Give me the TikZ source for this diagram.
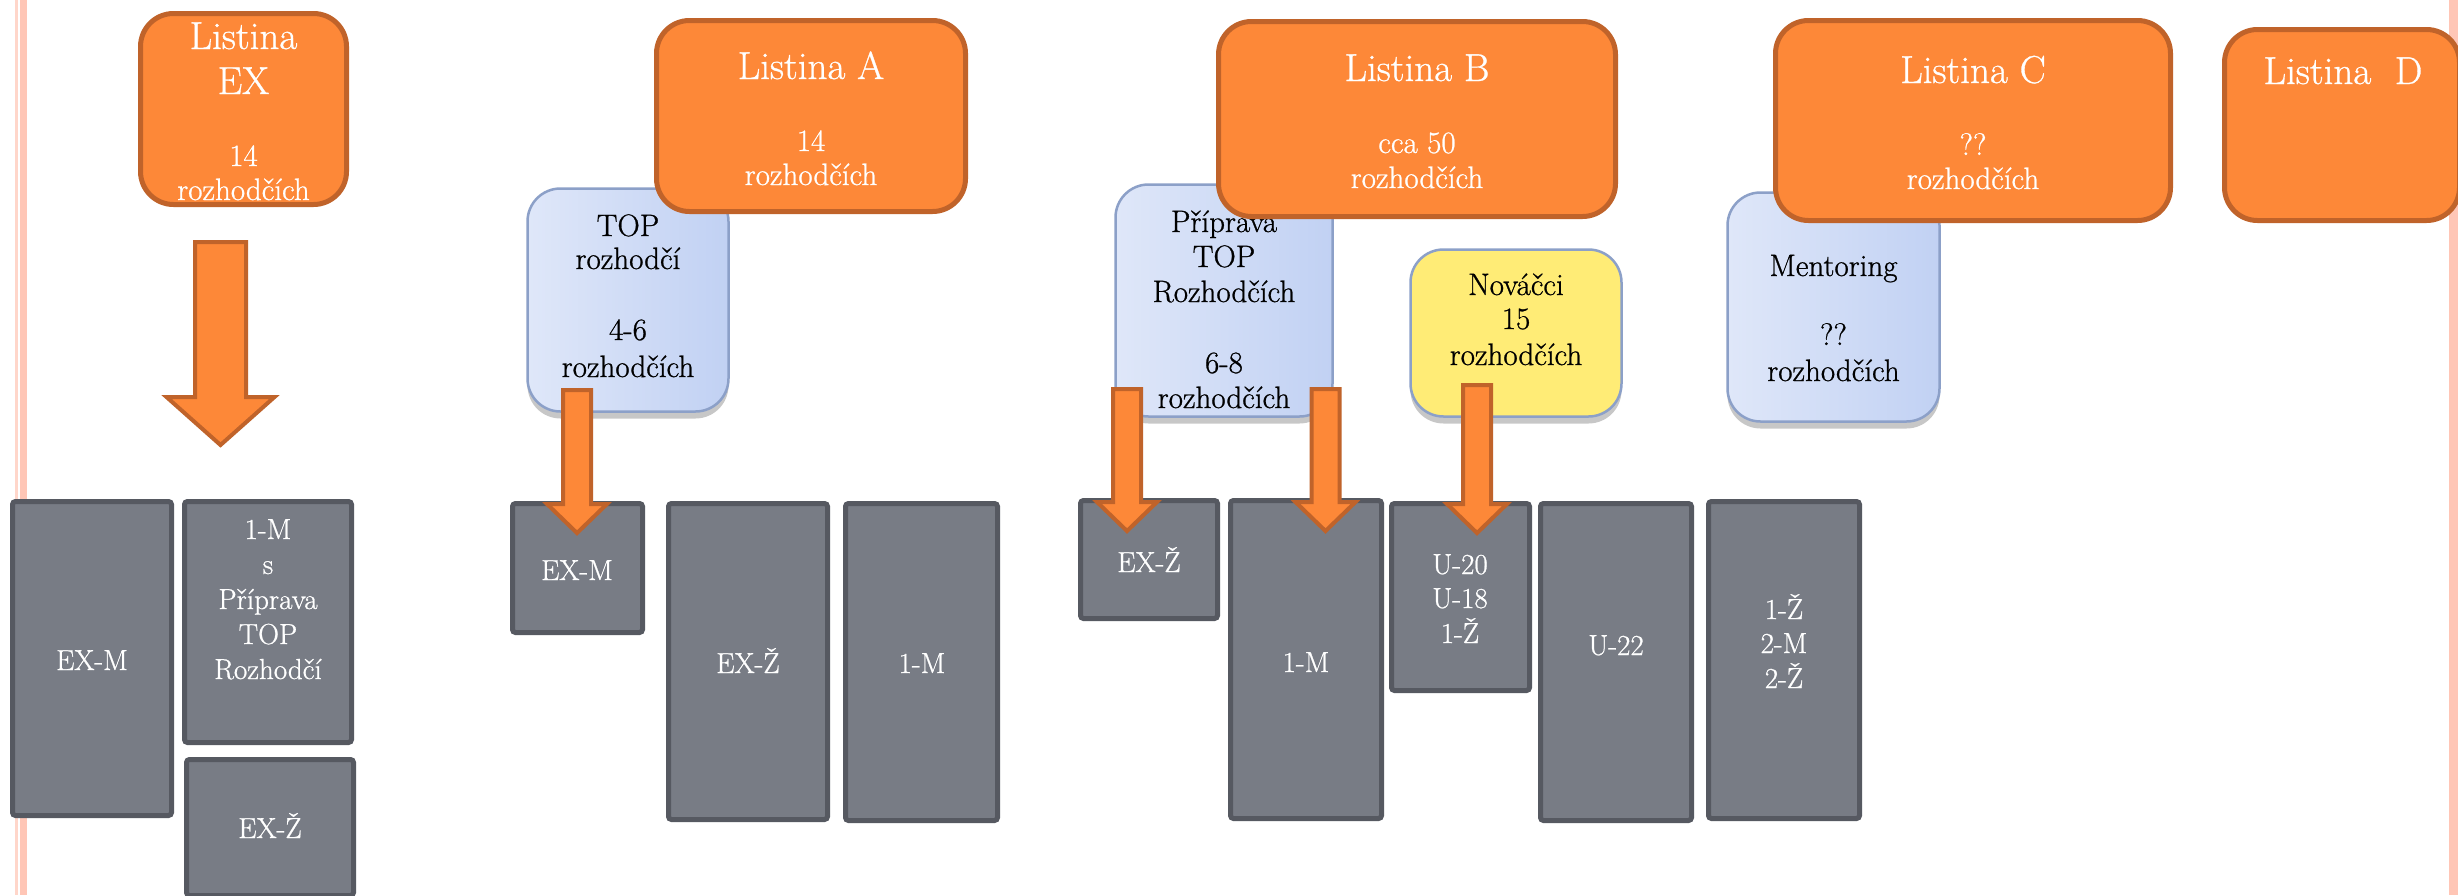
\documentclass[tikz,border=0pt]{standalone}
\usepackage{fontspec}
\setmainfont{Latin Modern Roman}[FakeBold=0.8]
\usetikzlibrary{shadows,calc}
\definecolor{orfill}{RGB}{253,136,56}
\definecolor{ordraw}{RGB}{192,99,42}
\definecolor{gyfill}{RGB}{120,124,133}
\definecolor{gydraw}{RGB}{86,89,97}
\definecolor{blL}{RGB}{223,231,249}
\definecolor{blR}{RGB}{193,209,243}
\definecolor{bldraw}{RGB}{140,160,200}
\definecolor{yefill}{RGB}{255,236,118}
\definecolor{pinkA}{RGB}{255,198,182}
\definecolor{pinkB}{RGB}{255,214,202}
\tikzset{
  orbox/.style={draw=ordraw, fill=orfill, line width=5pt, rounded corners=33pt, inner sep=0pt},
  shadowsty/.style={drop shadow={shadow xshift=0pt, shadow yshift=-7pt, opacity=0.22, fill=black}},
  blbox/.style={draw=bldraw, line width=2.5pt, left color=blL, right color=blR, rounded corners=33pt, inner sep=0pt, shadowsty},
  yebox/.style={draw=bldraw, line width=2.5pt, fill=yefill, rounded corners=33pt, inner sep=0pt, shadowsty},
  gybox/.style={draw=gydraw, fill=gyfill, line width=5pt, rounded corners=3pt, inner sep=0pt},
  arrowsty/.style={draw=ordraw, fill=orfill, line width=4pt, line join=miter},
  ttl/.style={text=white, font=\fontsize{39}{45}\selectfont, anchor=base, inner sep=0pt},
  owt/.style={text=white, font=\fontsize{31}{34}\selectfont, anchor=base, inner sep=0pt},
  blk/.style={text=black, font=\fontsize{31}{34}\selectfont, anchor=base, inner sep=0pt},
  gwt/.style={text=white, font=\fontsize{29}{34}\selectfont, anchor=base, inner sep=0pt},
}
% #1 start, #2 tip, #3 shaft half width, #4 head half width, #5 head length
\newcommand\blockarrow[5]{%
  \draw[arrowsty] let \p1=(#1), \p2=(#2) in
    (\x1-#3pt,\y1) -- (\x1+#3pt,\y1) -- (\x1+#3pt,\y2+#5pt) -- (\x1+#4pt,\y2+#5pt)
    -- (\x1,\y2) -- (\x1-#4pt,\y2+#5pt) -- (\x1-#3pt,\y2+#5pt) -- cycle;}
\begin{document}
\begin{tikzpicture}[x=1pt,y=-1pt]
\useasboundingbox (0,0) rectangle (2458,895);
\clip (0,0) rectangle (2458,895);
\fill[white] (0,0) rectangle (2458,895);
% page border lines
\fill[pinkB] (15,0) rectangle (17.5,895);
\fill[pinkA] (20,0) rectangle (27,895);
\fill[pinkA] (2449,0) rectangle (2458,895);

% blue and yellow boxes
\node[blbox, minimum width=201pt, minimum height=223pt] (bTOP) at (628,300) {};
\node[blk] (bTOPt1) at (628,236) {TOP};
\node[blk] (bTOPt2) at (628,269) {rozhodčí};
\node[blk] (bTOPt3) at (628,340) {4-6};
\node[blk] (bTOPt4) at (628,377) {rozhodčích};

\node[blbox, minimum width=217pt, minimum height=232pt] (bPrip) at (1224,300.5) {};
\node[blk] (bPript1) at (1224,232) {Příprava};
\node[blk] (bPript2) at (1224,267) {TOP};
\node[blk] (bPript3) at (1224,302) {Rozhodčích};
\node[blk] (bPript4) at (1224,373) {6-8};
\node[blk] (bPript5) at (1224,408) {rozhodčích};

\node[yebox, minimum width=211pt, minimum height=167pt] (yNov) at (1516,333) {};
\node[blk] (yNovt1) at (1516,295) {Nováčci};
\node[blk] (yNovt2) at (1516,329) {15};
\node[blk] (yNovt3) at (1516,365) {rozhodčích};

\node[blbox, minimum width=212pt, minimum height=229pt] (bMent) at (1833.5,307) {};
\node[blk] (bMentt1) at (1833.5,276) {Mentoring};
\node[blk] (bMentt2) at (1833.5,345) {??};
\node[blk] (bMentt3) at (1833.5,381) {rozhodčích};

% orange boxes
\node[orbox, minimum width=206pt, minimum height=191pt] (oEX) at (243.5,109) {};
\node[ttl] (oEXt1) at (243.5,49) {Listina};
\node[ttl] (oEXt2) at (243.5,94) {EX};
\node[owt] (oEXt3) at (243.5,166) {14};
\node[owt] (oEXt4) at (243.5,200) {rozhodčích};

\node[orbox, minimum width=309pt, minimum height=191pt] (oA) at (811,116) {};
\node[ttl] (oAt1) at (811,79) {Listina A};
\node[owt] (oAt2) at (811,151) {14};
\node[owt] (oAt3) at (811,185) {rozhodčích};

\node[orbox, minimum width=397pt, minimum height=195pt] (oB) at (1417,119) {};
\node[ttl] (oBt1) at (1417,81) {Listina B};
\node[owt] (oBt2) at (1417,153) {cca 50};
\node[owt] (oBt3) at (1417,188) {rozhodčích};

\node[orbox, minimum width=395pt, minimum height=200pt] (oC) at (1973,120.5) {};
\node[ttl] (oCt1) at (1973,83) {Listina C};
\node[owt] (oCt2) at (1973,155) {??};
\node[owt] (oCt3) at (1973,189) {rozhodčích};

\node[orbox, minimum width=235pt, minimum height=191pt] (oD) at (2342,125) {};
\node[ttl] (oDt1) at (2343,84) {Listina\ \ D};

% gray boxes
\node[gybox, minimum width=159pt, minimum height=314pt] (gEXM0) at (92,658.5) {};
\node[gwt] (gEXM0t) at (92,670) {EX-M};
\node[gybox, minimum width=167pt, minimum height=241pt] (g1Ms) at (268,622) {};
\node[gwt] (g1Mst1) at (268,539) {1-M};
\node[gwt] (g1Mst2) at (268,574) {s};
\node[gwt] (g1Mst3) at (268,609) {Příprava};
\node[gwt] (g1Mst4) at (268,644) {TOP};
\node[gwt] (g1Mst5) at (268,679) {Rozhodčí};
\node[gybox, minimum width=167pt, minimum height=136pt] (gEXZ0) at (270,827.5) {};
\node[gwt] (gEXZ0t) at (270,838) {EX-Ž};

\node[gybox, minimum width=130pt, minimum height=129pt] (gEXMA) at (577.5,568) {};
\node[gwt] (gEXMAt) at (577,580) {EX-M};
\node[gybox, minimum width=159pt, minimum height=316pt] (gEXZA) at (748,661.5) {};
\node[gwt] (gEXZAt) at (748,673) {EX-Ž};
\node[gybox, minimum width=152pt, minimum height=317pt] (g1MA) at (921.5,662) {};
\node[gwt] (g1MAt) at (922,673) {1-M};

\node[gybox, minimum width=137pt, minimum height=118pt] (gEXZB) at (1149,559.5) {};
\node[gwt] (gEXZBt) at (1149,572) {EX-Ž};
\node[gybox, minimum width=151pt, minimum height=318pt] (g1MB) at (1306,659.5) {};
\node[gwt] (g1MBt) at (1306,672) {1-M};
\node[gybox, minimum width=138pt, minimum height=187pt] (gU20) at (1460.5,597) {};
\node[gwt] (gU20t1) at (1460,574) {U-20};
\node[gwt] (gU20t2) at (1460,608) {U-18};
\node[gwt] (gU20t3) at (1460,643) {1-Ž};
\node[gybox, minimum width=151pt, minimum height=317pt] (gU22) at (1616,662) {};
\node[gwt] (gU22t) at (1616,655) {U-22};
\node[gybox, minimum width=151pt, minimum height=317pt] (g1Z) at (1784,660) {};
\node[gwt] (g1Zt1) at (1784,619) {1-Ž};
\node[gwt] (g1Zt2) at (1784,653) {2-M};
\node[gwt] (g1Zt3) at (1784,688) {2-Ž};

% block arrows
\coordinate (aEXs) at (220.5,242);
\coordinate (aEXe) at (220.5,445);
\coordinate (aAs) at (577,390);
\coordinate (aAe) at (577,533);
\coordinate (aB1s) at (1127,389);
\coordinate (aB1e) at (1127,531);
\coordinate (aB2s) at (1325.5,389);
\coordinate (aB2e) at (1325.5,531);
\coordinate (aB3s) at (1477,385);
\coordinate (aB3e) at (1477,533);
\blockarrow{aEXs}{aEXe}{25.5}{54}{48}
\blockarrow{aAs}{aAe}{14}{30}{29}
\blockarrow{aB1s}{aB1e}{14}{30}{29}
\blockarrow{aB2s}{aB2e}{14}{30}{29}
\blockarrow{aB3s}{aB3e}{14}{30}{29}
\end{tikzpicture}
\end{document}
